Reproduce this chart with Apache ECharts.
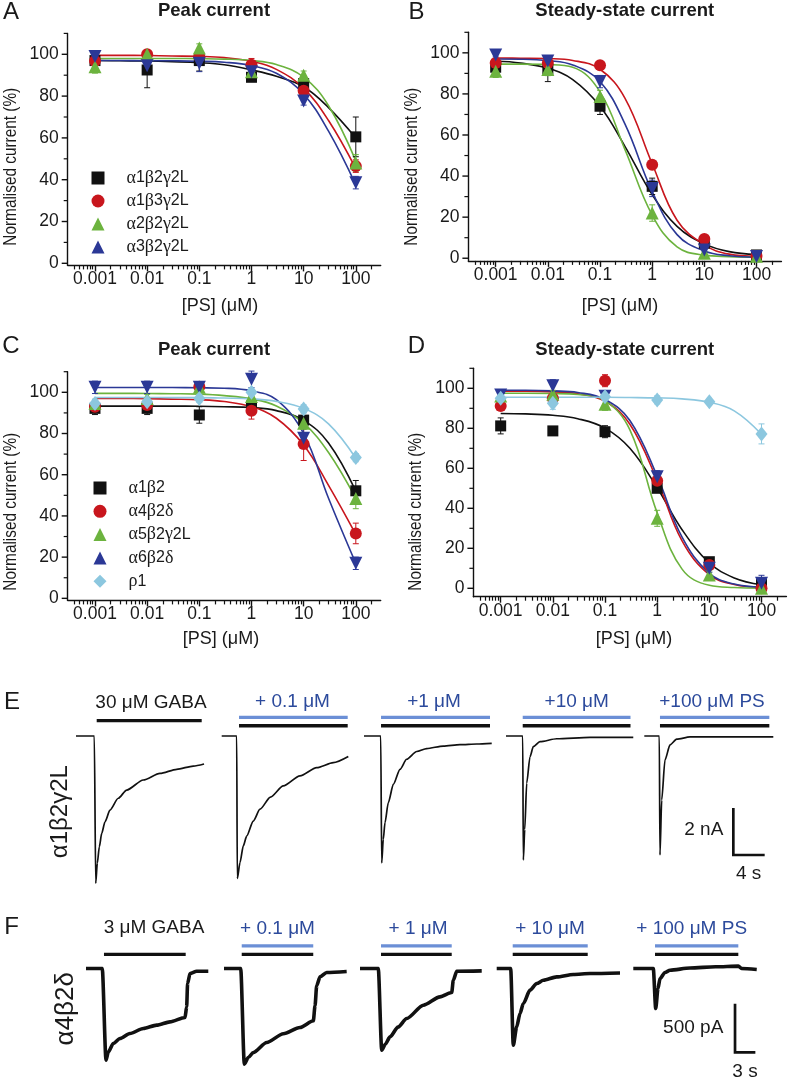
<!DOCTYPE html>
<html><head><meta charset="utf-8">
<script src="https://cdn.jsdelivr.net/npm/echarts@6/dist/echarts.min.js"></script>
<style>html,body{margin:0;padding:0;background:#fff}#c{width:788px;height:1078px}</style>
</head><body><div id="c"></div>
<script>
// ================= DATA =================
const conc = [0.001, 0.01, 0.1, 1, 10, 100];
const fitConc = [0.001, 0.003, 0.01, 0.03, 0.1, 0.3, 1, 3, 10, 30, 100];
const xTickLabels = ['0.001', '0.01', '0.1', '1', '10', '100'];
const yTickValues = [0, 20, 40, 60, 80, 100];
const yMinorValues = [10, 30, 50, 70, 90, 110];

const namesAB = ['α1β2γ2L', 'α1β3γ2L', 'α2β2γ2L', 'α3β2γ2L'];
const namesCD = ['α1β2', 'α4β2δ', 'α5β2γ2L', 'α6β2δ', 'ρ1'];

// Panel A – peak current (%)
const A_a1b2g2L = [97, 92.5, 97, 89, 86, 60.5];
const A_a1b3g2L = [96.8, 100, 99, 95, 82.6, 46.5];
const A_a2b2g2L = [94, 100, 103, 91.7, 90, 48];
const A_a3b2g2L = [98.9, 94.5, 95.7, 91.7, 77.7, 38.6];
const A_a1b2g2L_sem = [2, 8.5, 5, 2, 3, 9.5];
const A_a1b3g2L_sem = [1.5, 1, 2, 3, 2, 3];
const A_a2b2g2L_sem = [3, 2, 2, 2, 2, 4];
const A_a3b2g2L_sem = [2, 2, 4, 2, 2, 3];
const A_a1b2g2L_fit = [97, 96.9, 96.8, 96.5, 96, 95, 92.5, 89.5, 84.5, 74.5, 60];
const A_a1b3g2L_fit = [99.5, 99.5, 99.4, 99.2, 99.0, 98.4, 96.6, 92.8, 83.7, 68.3, 45.3];
const A_a2b2g2L_fit = [98, 98, 98, 98, 97.9, 97.7, 97.0, 95.1, 89.1, 75.4, 49];
const A_a3b2g2L_fit = [97, 97, 96.95, 96.9, 96.7, 96.2, 94.6, 90.9, 80.9, 63.2, 37.5];

// Panel B – steady-state current (%)
const B_a1b2g2L = [93, 92, 74, 35, 7.3, 1.6];
const B_a1b3g2L = [95, 95, 94, 45.5, 9.4, 1.1];
const B_a2b2g2L = [91, 91.9, 78.8, 22, 2.4, 1];
const B_a3b2g2L = [99, 96, 86, 34, 4, 0.8];
const B_a1b2g2L_sem = [3, 6, 4, 4, 2, 1];
const B_a1b3g2L_sem = [2, 3, 1, 2, 1, 1];
const B_a2b2g2L_sem = [3, 3, 3, 4, 1, 1];
const B_a3b2g2L_sem = [1, 2, 3, 4, 2, 1];
const B_a1b2g2L_fit = [96, 95, 92.5, 87, 74, 54.5, 31, 15.5, 7, 3.2, 1.8];
const B_a1b3g2L_fit = [97.5, 97.4, 97.2, 96.3, 92, 78, 46, 18.5, 6.5, 2, 1];
const B_a2b2g2L_fit = [94.5, 94.5, 94.3, 93, 81, 53, 21, 5.5, 1.5, 0.8, 0.5];
const B_a3b2g2L_fit = [97, 96.9, 96.2, 94.1, 86, 65.4, 32.5, 11.5, 3.5, 1.2, 0.5];

// Panel C – peak current (%)
const C_a1b2 = [92.2, 92.2, 89, 93.3, 86.5, 52.2];
const C_a4b2d = [93, 93.8, 102.7, 91, 74.9, 31.5];
const C_a5b2g2L = [94.6, 97, 102.5, 98, 85, 48.5];
const C_a6b2d = [102.4, 102.4, 102.4, 106.3, 77.7, 17];
const C_rho1 = [94.6, 95.4, 97, 100, 91.9, 68.3];
const C_a1b2_sem = [3, 3, 4, 3, 4, 5];
const C_a4b2d_sem = [2, 2, 1, 4, 8, 5];
const C_a5b2g2L_sem = [2, 2, 2, 2, 3, 5];
const C_a6b2d_sem = [3, 3, 2, 4, 5, 3];
const C_rho1_sem = [2, 2, 2, 2, 2, 2];
const C_a1b2_fit = [93.3, 93.3, 93.3, 93.3, 93.2, 93.0, 92.6, 91.1, 86.4, 75.4, 52];
const C_a4b2d_fit = [97, 97, 96.9, 96.7, 96.4, 95.5, 93, 87.4, 74.4, 54.8, 31];
const C_a5b2g2L_fit = [99.5, 99.5, 99.4, 99.3, 99.1, 98.4, 96.8, 93.4, 85, 70.8, 48.5];
const C_a6b2d_fit = [102.3, 102.3, 102.3, 102.3, 102.2, 102, 100.7, 96.4, 80, 48.6, 17];
const C_rho1_fit = [97.5, 97.5, 97.5, 97.4, 97.4, 97.2, 96.8, 95.6, 92.2, 84.7, 68];

// Panel D – steady-state current (%)
const D_a1b2 = [81.2, 78.7, 78.3, 50, 13.3, 2];
const D_a4b2d = [91.2, 95, 103.8, 53.8, 11.7, 0];
const D_a5b2g2L = [96.2, 97, 92, 35, 6.7, 0];
const D_a6b2d = [96.7, 101.3, 96, 55.8, 10, 2.5];
const D_rho1 = [95, 92.5, 95.8, 94.2, 93.3, 77.2];
const D_a1b2_sem = [4, 1, 3, 2, 2, 2];
const D_a4b2d_sem = [2, 2, 3, 2, 2, 1];
const D_a5b2g2L_sem = [2, 2, 3, 4, 2, 1];
const D_a6b2d_sem = [2, 3, 2, 3, 2, 4];
const D_rho1_sem = [2, 3, 2, 2, 1, 5];
const D_a1b2_fit = [87.4, 87.2, 86.5, 84.8, 80.1, 70, 50.3, 29.3, 12.7, 5.2, 1.8];
const D_a4b2d_fit = [98.5, 98.5, 98.2, 97.3, 93.5, 82, 54, 23.7, 6.8, 1.9, 0.5];
const D_a5b2g2L_fit = [97.5, 97.5, 97.4, 96.9, 93.8, 79.2, 37.7, 9.6, 1.5, 0.4, 0.1];
const D_a6b2d_fit = [99, 99, 98.7, 97.9, 94.4, 83.9, 56.1, 25.6, 7.5, 2.1, 0.6];
const D_rho1_fit = [95.5, 95.5, 95.5, 95.5, 95.5, 95.4, 95.2, 94.7, 93, 88.7, 77];

// Panel E – α1β2γ2L traces [time s, current nA]
const traceE_gaba = [[0,0],[2.44,0],[2.63,-6.46],[2.84,-5.58],[3.11,-4.86],[3.43,-4.27],[3.87,-3.76],[4.53,-3.25],[5.64,-2.73],[6.76,-2.37],[8.97,-1.93],[11.2,-1.64],[13.43,-1.46],[15.64,-1.32],[17.07,-1.23]];
const traceE_ps01 = [[0,0],[2.0,0],[2.08,-6.25],[2.44,-5.55],[2.88,-4.82],[3.33,-4.39],[4.21,-3.73],[5.11,-3.21],[6.5,-2.68],[8.21,-2.19],[10.44,-1.75],[12.67,-1.39],[14.88,-1.17],[16.88,-0.9]];
const traceE_ps1 = [[0,0],[2.23,0],[2.36,-5.57],[2.57,-4.53],[2.8,-3.8],[3.24,-2.92],[3.91,-2.12],[4.8,-1.46],[5.69,-1.02],[7.03,-0.68],[8.36,-0.55],[10.57,-0.44],[12.8,-0.38],[15.03,-0.35],[17.03,-0.32]];
const traceE_ps10 = [[0,0],[2.23,0],[2.31,-5.44],[2.5,-4.1],[2.76,-2.07],[3.2,-0.91],[3.64,-0.47],[4.53,-0.25],[6.76,-0.12],[11.2,-0.06],[16.97,-0.06]];
const traceE_ps100 = [[0,0],[2.0,0],[2.09,-5.22],[2.32,-2.81],[2.76,-1.05],[3.43,-0.39],[4.32,-0.14],[6.09,-0.04],[17.2,-0.04]];
const appE_gaba = [[2.76,16.76],[2.31,16.8],[2.27,16.8],[2.23,16.6],[2.09,16.67]];
const appE_ps = [null,[2.31,16.8],[2.27,16.8],[2.23,16.6],[2.09,16.67]];
const labelsE = ['30 μM GABA', '+ 0.1 μM', '+1 μM', '+10 μM', '+100 μM PS'];

// Panel F – α4β2δ traces [time s, current pA]
const traceF_gaba = [[0,0],[2.57,0],[3.16,-969],[3.52,-882],[4.31,-793],[5.37,-740],[6.95,-687],[9.05,-634],[11.17,-599],[13.27,-564],[15.64,-518],[15.9,-406],[16.05,-159],[16.43,-53],[17.49,-29],[19.32,-29]];
const traceF_ps01 = [[0,0],[2.64,0],[3.21,-1011],[3.84,-941],[4.63,-888],[6.75,-782],[9.37,-690],[12.0,-624],[14.11,-553],[14.38,-394],[14.64,-183],[15.17,-88],[16.22,-42],[19.38,-32]];
const traceF_ps1 = [[0,0],[2.89,0],[3.43,-864],[4.0,-800],[4.74,-723],[6.0,-620],[7.38,-529],[10.0,-388],[12.64,-300],[14.49,-254],[14.74,-124],[15.28,-29],[19.23,-25]];
const traceF_ps10 = [[0,0],[2.21,0],[2.62,-811],[3.16,-617],[3.68,-476],[4.21,-370],[5.26,-229],[6.32,-159],[7.37,-124],[9.48,-89],[12.1,-63],[14.74,-53],[19.48,-47]];
const traceF_ps100 = [[0,0],[3.16,0],[3.54,-423],[3.9,-211],[4.22,-106],[5.0,-42],[5.8,-18],[8.96,5],[13,18],[16.6,25],[17.1,0],[19.5,-10]];
const appF_gaba = [[2.84,15.75],[2.8,14.1],[3.32,14.49],[2.53,14.38],[3.43,16.59]];
const appF_ps = [null,[2.8,14.1],[3.32,14.49],[2.53,14.38],[3.43,16.59]];
const labelsF = ['3 μM GABA', '+ 0.1 μM', '+ 1 μM', '+ 10 μM', '+ 100 μM PS'];

const scaleE = { time: 4, current: 2 };     // 4 s, 2 nA
const scaleF = { time: 3, current: 500 };   // 3 s, 500 pA

// ================= STYLE / LAYOUT =================
const FONT = '"Liberation Sans", Arial, Helvetica, sans-serif';
const SERIF = '"Liberation Serif", "DejaVu Serif", "Times New Roman", serif';
const INK = '#1a1a1a';
const BLUE_TXT = '#2c4a9c';
const BLUE_BAR = '#6b8fd6';
const MARK = [
  { color: '#111111', symbol: 'rect', size: 11, rot: 0 },
  { color: '#c8161d', symbol: 'circle', size: 12, rot: 0 },
  { color: '#6cb33e', symbol: 'triangle', size: 13, rot: 0 },
  { color: '#2b3896', symbol: 'triangle', size: 13, rot: 180 },
  { color: '#8cc7df', symbol: 'diamond', size: [12, 15], rot: 0 }
];
const LOG_MIN = 0.0003, LOG_MAX = 300;
const Y_TICKS = yTickValues.map(v => [v, 1]).concat(yMinorValues.map(v => [v, 0]));

const panels = [
  { names: namesAB, vals: [A_a1b2g2L, A_a1b3g2L, A_a2b2g2L, A_a3b2g2L],
    sems: [A_a1b2g2L_sem, A_a1b3g2L_sem, A_a2b2g2L_sem, A_a3b2g2L_sem],
    fits: [A_a1b2g2L_fit, A_a1b3g2L_fit, A_a2b2g2L_fit, A_a3b2g2L_fit],
    grid: { left: 67.7, top: 33.4, width: 313, height: 232 }, ymin: -1 },
  { names: namesAB, vals: [B_a1b2g2L, B_a1b3g2L, B_a2b2g2L, B_a3b2g2L],
    sems: [B_a1b2g2L_sem, B_a1b3g2L_sem, B_a2b2g2L_sem, B_a3b2g2L_sem],
    fits: [B_a1b2g2L_fit, B_a1b3g2L_fit, B_a2b2g2L_fit, B_a3b2g2L_fit],
    grid: { left: 468.4, top: 32.3, width: 313, height: 228.6 }, ymin: -1.3 },
  { names: namesCD, vals: [C_a1b2, C_a4b2d, C_a5b2g2L, C_a6b2d, C_rho1],
    sems: [C_a1b2_sem, C_a4b2d_sem, C_a5b2g2L_sem, C_a6b2d_sem, C_rho1_sem],
    fits: [C_a1b2_fit, C_a4b2d_fit, C_a5b2g2L_fit, C_a6b2d_fit, C_rho1_fit],
    grid: { left: 67.7, top: 371.7, width: 313, height: 228.7 }, ymin: -1 },
  { names: namesCD, vals: [D_a1b2, D_a4b2d, D_a5b2g2L, D_a6b2d, D_rho1],
    sems: [D_a1b2_sem, D_a4b2d_sem, D_a5b2g2L_sem, D_a6b2d_sem, D_rho1_sem],
    fits: [D_a1b2_fit, D_a4b2d_fit, D_a5b2g2L_fit, D_a6b2d_fit, D_rho1_fit],
    grid: { left: 473.4, top: 368.3, width: 313, height: 228.4 }, ymin: -4.2 }
];

const grids = [], xAxes = [], yAxes = [], series = [];
const axisLineStyle = { color: '#111', width: 1.4 };

function xLabel(v) {
  const i = conc.findIndex(c => Math.abs(Math.log10(c) - Math.log10(v)) < 1e-6);
  return i >= 0 ? xTickLabels[i] : '';
}
function errRenderer(color) {
  return function (params, api) {
    const x = api.value(0), y = api.value(1), e = api.value(2);
    if (!e) return null;
    const t = api.coord([x, y + e]), b = api.coord([x, y - e]);
    const w = 3, st = { stroke: color, lineWidth: 1 };
    return { type: 'group', children: [
      { type: 'line', shape: { x1: t[0], y1: t[1], x2: b[0], y2: b[1] }, style: st },
      { type: 'line', shape: { x1: t[0] - w, y1: t[1], x2: t[0] + w, y2: t[1] }, style: st },
      { type: 'line', shape: { x1: b[0] - w, y1: b[1], x2: b[0] + w, y2: b[1] }, style: st }
    ] };
  };
}
function yTickRenderer() {
  return function (params, api) {
    const p = api.coord([LOG_MIN, api.value(1)]);
    const major = api.value(2) === 1;
    return { type: 'line', shape: { x1: p[0] - (major ? 6 : 4), y1: p[1], x2: p[0], y2: p[1] },
      style: { stroke: '#111', lineWidth: major ? 1.4 : 1.2 } };
  };
}

panels.forEach((p, pi) => {
  grids.push(Object.assign({ containLabel: false }, p.grid));
  xAxes.push({ type: 'log', logBase: 10, gridIndex: pi, min: LOG_MIN, max: LOG_MAX, position: 'bottom',
    axisLine: { show: true, onZero: false, lineStyle: axisLineStyle },
    axisTick: { show: true, customValues: conc, length: 6, lineStyle: { color: '#111', width: 1.4 } },
    minorTick: { show: true, splitNumber: 9, length: 4, lineStyle: { color: '#111', width: 1.2 } },
    axisLabel: { show: true, customValues: conc, formatter: xLabel, fontSize: 17.5, fontFamily: FONT, color: INK, margin: 5 },
    splitLine: { show: false } });
  yAxes.push({ type: 'value', gridIndex: pi, min: p.ymin, max: 110, position: 'left',
    axisLine: { show: true, onZero: false, lineStyle: axisLineStyle },
    axisTick: { show: false },
    axisLabel: { show: true, customValues: yTickValues, fontSize: 17.5, fontFamily: FONT, color: INK, margin: 9 },
    splitLine: { show: false } });

  const xi = pi, yi = pi;
  // y-axis major/minor ticks drawn through the axis' own scale
  series.push({ type: 'custom', name: 'yticks', xAxisIndex: xi, yAxisIndex: yi,
    data: Y_TICKS.map(t => [LOG_MIN, t[0], t[1]]), encode: { x: 0, y: 1 },
    renderItem: yTickRenderer(), clip: false, silent: true, z: 5 });

  p.names.forEach((nm, i) => {
    const m = MARK[i];
    series.push({ type: 'line', name: 'fit', xAxisIndex: xi, yAxisIndex: yi,
      data: fitConc.map((c, k) => [c, p.fits[i][k]]), symbol: 'none', showSymbol: false,
      smooth: 0.4, lineStyle: { color: m.color, width: 1.6 }, z: 2, silent: true });
  });
  p.names.forEach((nm, i) => {
    const m = MARK[i];
    series.push({ type: 'custom', name: 'err', xAxisIndex: xi, yAxisIndex: yi,
      data: conc.map((c, k) => [c, p.vals[i][k], p.sems[i][k]]), encode: { x: 0, y: 1 },
      renderItem: errRenderer(m.color), z: 3, silent: true });
  });
  p.names.forEach((nm, i) => {
    const m = MARK[i];
    series.push({ type: 'scatter', name: nm, xAxisIndex: xi, yAxisIndex: yi,
      data: conc.map((c, k) => [c, p.vals[i][k]]), symbol: m.symbol, symbolSize: m.size,
      symbolRotate: m.rot, itemStyle: { color: m.color, opacity: 1 }, z: 4, silent: true });
  });
});

// ---- Traces (E, F) ----
const E = { lefts: [76, 221.7, 364, 506, 644.3], base: 736, pxPerS: 7.5, pxPerUnit: 22.8, ymin: -7, ymax: 1.2, tmax: 18,
  traces: [traceE_gaba, traceE_ps01, traceE_ps1, traceE_ps10, traceE_ps100], gaba: appE_gaba, ps: appE_ps,
  barBlack: [0.67, 0.45, 0.45, 0.45, 0.45], barBlue: 0.82, lw: 1.7 };
const F = { lefts: [86, 224, 360, 496.7, 633.3], base: 968.5, pxPerS: 6.33, pxPerUnit: 0.0946, ymin: -1100, ymax: 300, tmax: 20,
  traces: [traceF_gaba, traceF_ps01, traceF_ps1, traceF_ps10, traceF_ps100], gaba: appF_gaba, ps: appF_ps,
  barBlack: [150, 150, 150, 150, 150], barBlue: 240, lw: 3.6 };

function addTraceRow(R) {
  const idx = [];
  R.lefts.forEach((left, k) => {
    const gi = grids.length;
    grids.push({ left: left, top: R.base - R.ymax * R.pxPerUnit, width: R.tmax * R.pxPerS,
      height: (R.ymax - R.ymin) * R.pxPerUnit, containLabel: false });
    xAxes.push({ type: 'value', gridIndex: gi, min: 0, max: R.tmax, show: false });
    yAxes.push({ type: 'value', gridIndex: gi, min: R.ymin, max: R.ymax, show: false });
    const ai = xAxes.length - 1;
    idx.push(ai);
    series.push({ type: 'line', xAxisIndex: ai, yAxisIndex: ai, data: R.traces[k], symbol: 'none', showSymbol: false,
      smooth: 0.25, smoothMonotone: 'x', lineStyle: { color: '#111', width: R.lw }, silent: true, z: 3 });
    const g = R.gaba[k];
    series.push({ type: 'line', xAxisIndex: ai, yAxisIndex: ai, data: [[g[0], R.barBlack[k]], [g[1], R.barBlack[k]]],
      symbol: 'none', lineStyle: { color: '#111', width: 3.3 }, silent: true, z: 3 });
    if (R.ps[k]) {
      const q = R.ps[k];
      series.push({ type: 'line', xAxisIndex: ai, yAxisIndex: ai, data: [[q[0], R.barBlue], [q[1], R.barBlue]],
        symbol: 'none', lineStyle: { color: BLUE_BAR, width: 3.3 }, silent: true, z: 3 });
    }
  });
  return idx;
}
const eIdx = addTraceRow(E);
const fIdx = addTraceRow(F);

// scale bars
const sbE = { t0: 11.87, i0: -5.22 };
series.push({ type: 'line', xAxisIndex: eIdx[4], yAxisIndex: eIdx[4], symbol: 'none', silent: true,
  data: [[sbE.t0, sbE.i0 + scaleE.current], [sbE.t0, sbE.i0], [sbE.t0 + scaleE.time, sbE.i0]],
  lineStyle: { color: '#111', width: 2.7, cap: 'square', join: 'miter' } });
const sbF = { t0: 16.07, i0: -886 };
series.push({ type: 'line', xAxisIndex: fIdx[4], yAxisIndex: fIdx[4], symbol: 'none', silent: true,
  data: [[sbF.t0, sbF.i0 + scaleF.current], [sbF.t0, sbF.i0], [sbF.t0 + scaleF.time, sbF.i0]],
  lineStyle: { color: '#111', width: 2.7, cap: 'square', join: 'miter' } });

// ---- Text ----
function txt(text, x, y, o) {
  o = o || {};
  const align = o.align || 'center', va = o.va || 'middle';
  const el = { type: 'text', x: x, y: y, rotation: o.rot || 0, z: 100, silent: true,
    style: { text: text, font: o.font || ('18px ' + FONT), fill: o.fill || INK,
      align: align, verticalAlign: va, textAlign: align, textVerticalAlign: va, rich: o.rich } };
  if (o.sx) el.scaleX = o.sx;
  return el;
}
const LETTER = '24px ' + FONT, TITLE = 'bold 18.5px ' + FONT, AXN = '18px ' + FONT, YN = '18.5px ' + FONT, LAB = '19px ' + FONT;
const graphics = [
  txt('A', 11, 12, { font: LETTER }), txt('B', 416.5, 12, { font: LETTER }),
  txt('C', 11, 346.7, { font: LETTER }), txt('D', 416.5, 346.7, { font: LETTER }),
  txt('E', 12, 702, { font: LETTER }), txt('F', 11.5, 927.5, { font: LETTER }),
  txt('Peak current', 214, 11, { font: TITLE }), txt('Steady-state current', 624.8, 11, { font: TITLE }),
  txt('Peak current', 214, 350, { font: TITLE }), txt('Steady-state current', 624.8, 350, { font: TITLE }),
  txt('[PS] (μM)', 220, 306, { font: AXN }), txt('[PS] (μM)', 620, 306, { font: AXN }),
  txt('[PS] (μM)', 221, 639, { font: AXN }), txt('[PS] (μM)', 634, 639, { font: AXN }),
  txt('Normalised current (%)', 11, 166.7, { font: YN, rot: Math.PI / 2, sx: 0.83 }),
  txt('Normalised current (%)', 412.4, 166.7, { font: YN, rot: Math.PI / 2, sx: 0.83 }),
  txt('Normalised current (%)', 11, 511.7, { font: YN, rot: Math.PI / 2, sx: 0.83 }),
  txt('Normalised current (%)', 415.7, 511.7, { font: YN, rot: Math.PI / 2, sx: 0.83 }),
  txt('α1β2γ2L', 60, 811.7, { font: '24px ' + FONT, rot: Math.PI / 2 }),
  txt('α4β2δ', 65.8, 1008.7, { font: '26px ' + FONT, rot: Math.PI / 2 }),
  txt('2 nA', 723.3, 830, { font: LAB, align: 'right' }), txt('4 s', 748.7, 873.3, { font: LAB }),
  txt('500 pA', 723.3, 1027.5, { font: LAB, align: 'right' }), txt('3 s', 745, 1071.5, { font: LAB })
];
const labelPosE = [[151, 702.5], [292.5, 702], [434, 702], [576.7, 702], [712, 702]];
const labelPosF = [[154, 928], [277.5, 929], [418, 929], [550, 929], [691.7, 929]];
labelsE.forEach((t, k) => graphics.push(txt(t, labelPosE[k][0], labelPosE[k][1], { font: LAB, fill: k ? BLUE_TXT : INK })));
labelsF.forEach((t, k) => graphics.push(txt(t, labelPosF[k][0], labelPosF[k][1], { font: LAB, fill: k ? BLUE_TXT : INK })));

// ---- Legends ----
const greekFmt = name => name.replace(/([α-ω])/g, '{g|$1}');
function legendAt(names, left, top, gap) {
  return { data: names, left: left, top: top, orient: 'vertical', itemWidth: 13, itemHeight: 13, itemGap: gap,
    selectedMode: false, formatter: greekFmt,
    textStyle: { fontSize: 16, fontFamily: FONT, color: INK, lineHeight: 18, padding: [0, 0, 0, 17],
      rich: { g: { fontFamily: SERIF, fontSize: 18, lineHeight: 18, color: INK } } } };
}

const chart = echarts.init(document.getElementById('c'), null, { renderer: 'canvas' });
chart.setOption({
  animation: false,
  backgroundColor: '#ffffff',
  grid: grids, xAxis: xAxes, yAxis: yAxes, series: series,
  legend: [legendAt(namesAB, 86.5, 164, 5), legendAt(namesCD, 88.5, 474, 5.3)],
  graphic: { elements: graphics }
});
</script></body></html>
